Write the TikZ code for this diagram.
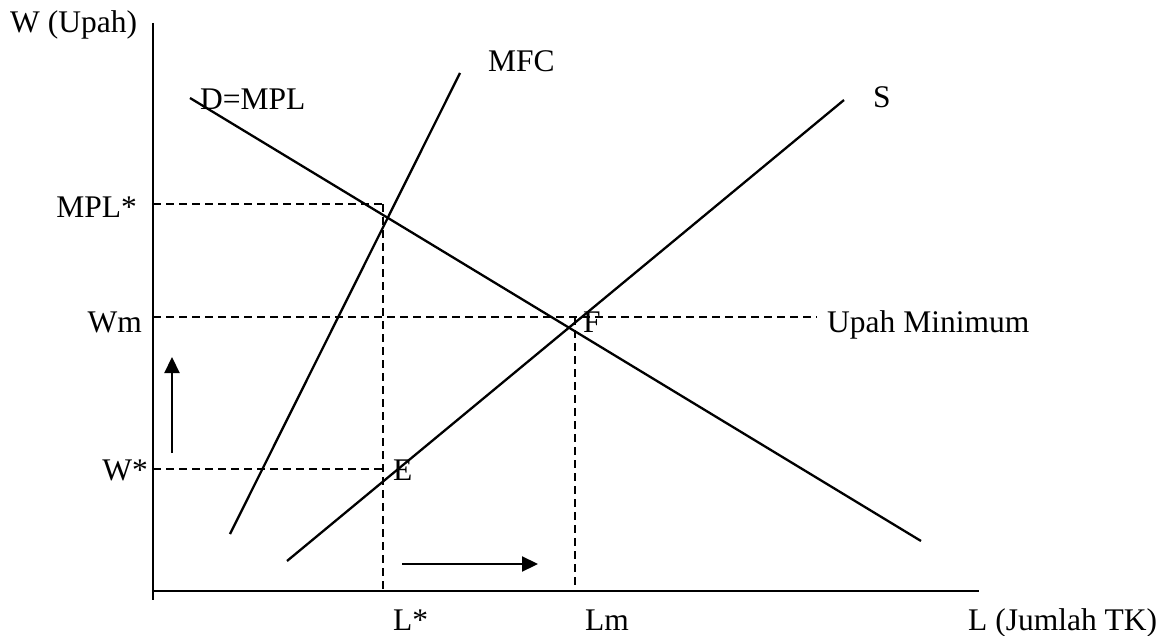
\documentclass[tikz,border=0pt]{standalone}
\usepackage{fontspec}
\setmainfont{Liberation Serif}
\usetikzlibrary{arrows.meta}

\begin{document}
\begin{tikzpicture}[x=1pt,y=-1pt,font=\fontsize{31.5}{37}\selectfont,
    axis/.style={line width=2.8pt},
    curve/.style={line width=2.3pt},
    guide/.style={line width=2pt,dash pattern=on 8pt off 5pt},
    movearrow/.style={line width=2.2pt,-{Triangle[length=16pt,width=15pt]}},
    lblw/.style={inner sep=0pt,anchor=base west},
    lble/.style={inner sep=0pt,anchor=base east}]
    \useasboundingbox (0,0) rectangle (1169,636);
    % axes
    \coordinate (ytop) at (153,23);  \coordinate (ybot) at (153,600);
    \coordinate (xbeg) at (152,591); \coordinate (xend) at (979,591);
    \draw[axis] (ytop) -- (ybot);
    \draw[axis] (xbeg) -- (xend);
    % curves
    \coordinate (d1) at (190,98);   \coordinate (d2) at (921,541);
    \coordinate (m1) at (230,534);  \coordinate (m2) at (460,73);
    \coordinate (s1) at (287,561);  \coordinate (s2) at (844,100);
    \draw[curve] (d1) -- (d2);
    \draw[curve] (m1) -- (m2);
    \draw[curve] (s1) -- (s2);
    % guide lines
    \coordinate (mplY) at (153,204); \coordinate (mplX) at (385,204);
    \coordinate (wmY)  at (153,317); \coordinate (wmX)  at (817,317);
    \coordinate (wsY)  at (153,469); \coordinate (wsX)  at (383,469);
    \coordinate (lsT)  at (383,204); \coordinate (lsB)  at (383,591);
    \coordinate (lmT)  at (575,317); \coordinate (lmB)  at (575,591);
    \draw[guide] (mplY) -- (mplX);
    \draw[guide] (wmY) -- (wmX);
    \draw[guide] (wsY) -- (wsX);
    \draw[guide] (lsT) -- (lsB);
    \draw[guide] (lmT) -- (lmB);
    % movements
    \coordinate (up1) at (172,453); \coordinate (up2) at (172,357);
    \coordinate (rt1) at (402,564); \coordinate (rt2) at (538,564);
    \draw[movearrow] (up1) -- (up2);
    \draw[movearrow] (rt1) -- (rt2);
    % labels
    \node[lblw] (wlab)  at (10,33)   {W (Upah)};
    \node[lblw] (dlab)  at (200,110) {D=MPL};
    \node[lblw] (mfc)   at (488,72)  {MFC};
    \node[lblw] (slab)  at (873,108) {S};
    \node[lble] (mpls)  at (137,218) {MPL*};
    \node[lble] (wm)    at (142,332) {Wm};
    \node[lble] (ws)    at (148,480) {W*};
    \node[lblw] (elab)  at (393,480) {E};
    \node[lblw] (flab)  at (583,332) {F};
    \node[lblw] (umin)  at (827,332) {Upah Minimum};
    \node[lblw] (ls)    at (393,630) {L*};
    \node[lblw] (lm)    at (585,630) {Lm};
    \node[lblw] (llab)  at (968,630) {L (Jumlah TK)};
\end{tikzpicture}
\end{document}
